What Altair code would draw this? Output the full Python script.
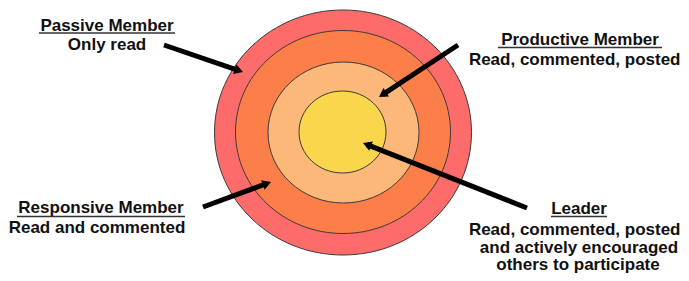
import math
import altair as alt
import pandas as pd

# ---- rings (outer to inner), page-pixel coordinates ----
ring_names = ["Passive Member", "Responsive Member", "Productive Member", "Leader"]
ring_cx = [343, 343, 343.5, 342.5]
ring_cy = [132.5, 132, 132.5, 132]
ring_rx = [128.5, 107.5, 75.5, 43.5]
ring_ry = [122.5, 101.5, 70.5, 41]
ring_colors = ["#FE6B6B", "#FC7F4A", "#FCB878", "#F9D64C"]

# ---- arrows: start -> tip ----
arrow_x1 = [164, 458, 203, 527]
arrow_y1 = [45, 45, 207, 208]
arrow_x2 = [243, 379, 271, 363]
arrow_y2 = [72, 97, 182, 143]

# ---- titles (underlined) ----
title_text = ["Passive Member", "Productive Member", "Responsive Member", "Leader"]
title_x = [107, 580, 101, 579]
title_y = [30.5, 45, 213, 213.5]
underline_x1 = [39, 498, 17, 551]
underline_x2 = [175, 662, 185, 607]
underline_y = [33, 47.5, 216.5, 216.5]

# ---- description lines ----
desc_text = ["Only read", "Read, commented, posted", "Read and commented",
             "Read, commented, posted", "and actively encouraged", "others to participate"]
desc_x = [107, 680.5, 97, 680.5, 579, 578]
desc_y = [50, 65, 233, 234.5, 252.5, 270]
desc_align = ["center", "right", "center", "right", "center", "center"]

W, H = 673, 265
xs = alt.Scale(domain=[8, 8 + W])
ys = alt.Scale(domain=[8, 8 + H], reverse=True)

def ellipse_path(rx, ry):
    k = rx / ry
    return f"M {-k} 0 A {k} 1 0 1 0 {k} 0 A {k} 1 0 1 0 {-k} 0 Z"

rings = pd.DataFrame({
    "name": ring_names, "cx": ring_cx, "cy": ring_cy,
    "ry": ring_ry, "color": ring_colors, "order": [0, 1, 2, 3],
    "shape": [ellipse_path(a, b) for a, b in zip(ring_rx, ring_ry)],
})

HEAD = 10.0  # triangle width
rows = []
for x1, y1, x2, y2 in zip(arrow_x1, arrow_y1, arrow_x2, arrow_y2):
    dx, dy = x2 - x1, y2 - y1
    L = math.hypot(dx, dy)
    ux, uy = dx / L, dy / L
    h = math.sqrt(3) / 2 * (HEAD / 2)
    cxh, cyh = x2 - ux * h, y2 - uy * h
    ang = math.degrees(math.atan2(dx, -dy)) % 360
    rows.append({"x1": x1, "y1": y1, "x2": cxh, "y2": cyh, "hx": cxh, "hy": cyh, "ang": ang})
arrows = pd.DataFrame(rows)

titles = pd.DataFrame({"t": title_text, "x": title_x, "y": title_y,
                       "ux1": underline_x1, "ux2": underline_x2, "uy": underline_y})
descs = pd.DataFrame({"t": desc_text, "x": desc_x, "y": desc_y, "a": desc_align})

ring_layer = alt.Chart(rings).mark_point(
    filled=True, opacity=1, stroke="#3a3a3a", strokeWidth=1, strokeOpacity=1
).encode(
    x=alt.X("cx:Q", scale=xs, axis=None),
    y=alt.Y("cy:Q", scale=ys, axis=None),
    size=alt.Size("ry:Q", scale=alt.Scale(type="pow", exponent=2, domain=[0, 100], range=[0, 40000]), legend=None),
    shape=alt.Shape("shape:N", scale=None),
    fill=alt.Fill("color:N", scale=None),
    order=alt.Order("order:Q"),
)

line_layer = alt.Chart(arrows).mark_rule(strokeWidth=5, color="black", strokeCap="butt").encode(
    x=alt.X("x1:Q", scale=xs, axis=None), y=alt.Y("y1:Q", scale=ys, axis=None),
    x2="x2:Q", y2="y2:Q",
)

head_layer = alt.Chart(arrows).mark_point(
    shape="triangle-up", filled=True, color="black", opacity=1, size=HEAD * HEAD
).encode(
    x=alt.X("hx:Q", scale=xs, axis=None), y=alt.Y("hy:Q", scale=ys, axis=None),
    angle=alt.Angle("ang:Q", scale=None),
)

font = dict(font="Liberation Sans", fontWeight="bold", fontSize=17,
            baseline="alphabetic", color="#111111")

title_layer = alt.Chart(titles).mark_text(align="center", **font).encode(
    x=alt.X("x:Q", scale=xs, axis=None), y=alt.Y("y:Q", scale=ys, axis=None), text="t:N",
)
underline_layer = alt.Chart(titles).mark_rule(strokeWidth=1.5, color="#333333").encode(
    x=alt.X("ux1:Q", scale=xs, axis=None), x2="ux2:Q", y=alt.Y("uy:Q", scale=ys, axis=None),
)
desc_center = alt.Chart(descs).transform_filter(alt.datum.a == "center").mark_text(
    align="center", **font
).encode(
    x=alt.X("x:Q", scale=xs, axis=None), y=alt.Y("y:Q", scale=ys, axis=None), text="t:N",
)
desc_right = alt.Chart(descs).transform_filter(alt.datum.a == "right").mark_text(
    align="right", **font
).encode(
    x=alt.X("x:Q", scale=xs, axis=None), y=alt.Y("y:Q", scale=ys, axis=None), text="t:N",
)

chart = alt.layer(
    ring_layer, line_layer, head_layer, title_layer, underline_layer, desc_center, desc_right
).properties(
    width=W, height=H, padding=0, autosize=alt.AutoSizeParams(type="none"),
    background="white",
).configure_view(stroke=None)

chart.save("out.html", embed_options={"renderer": "svg", "actions": False})
